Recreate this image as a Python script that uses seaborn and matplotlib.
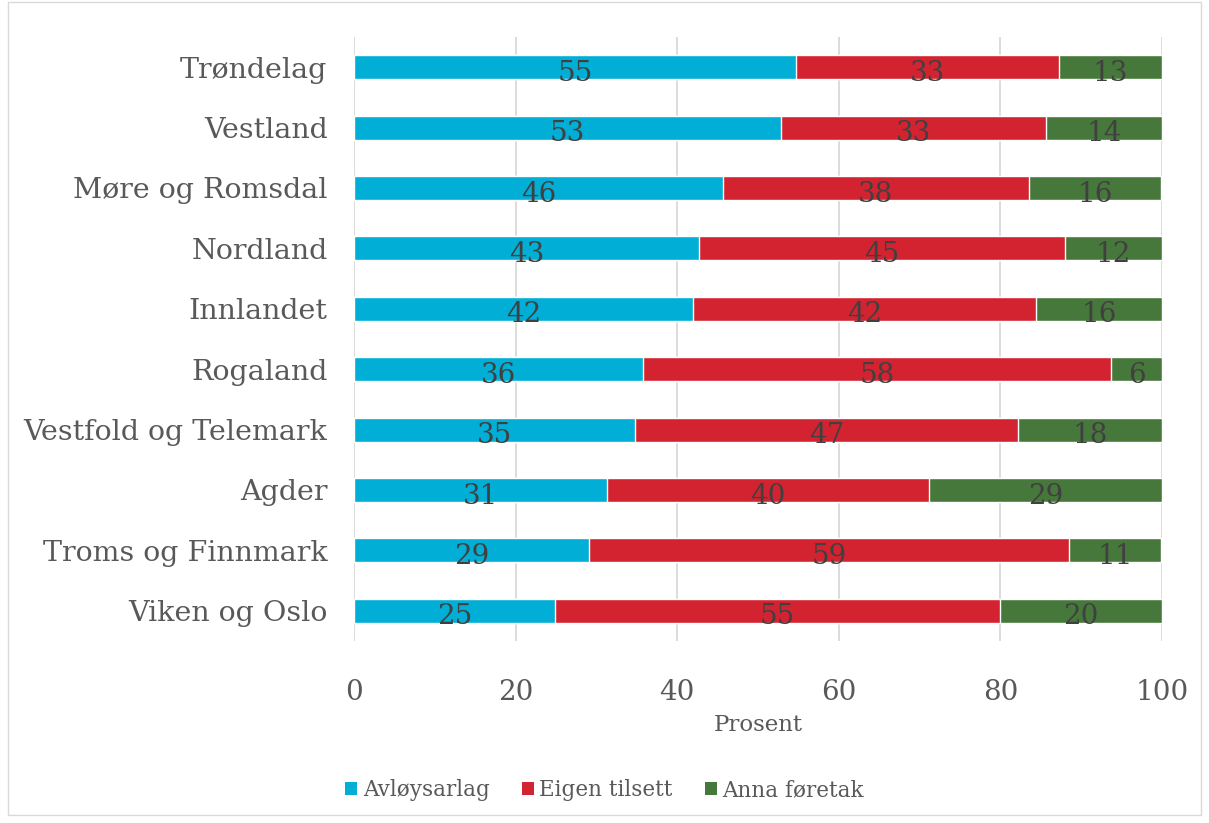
import matplotlib
matplotlib.use("Agg")
import matplotlib.pyplot as plt
import seaborn as sns
import pandas as pd
import numpy as np
from matplotlib.patches import Rectangle, Patch

regions = ["Trøndelag", "Vestland", "Møre og Romsdal", "Nordland", "Innlandet",
           "Rogaland", "Vestfold og Telemark", "Agder", "Troms og Finnmark", "Viken og Oslo"]
avloysarlag = [54.7, 52.9, 45.7, 42.7, 42.0, 35.8, 34.8, 31.3, 29.1, 24.9]
eigen_tilsett = [32.6, 32.8, 37.8, 45.3, 42.4, 57.9, 47.4, 39.9, 59.4, 55.0]
anna_foretak = [12.7, 14.3, 16.4, 12.0, 15.6, 6.3, 17.8, 28.8, 11.4, 20.1]
series_names = ["Avløysarlag", "Eigen tilsett", "Anna føretak"]
colors = ["#00AED6", "#D42330", "#47783B"]
xticks = [0, 20, 40, 60, 80, 100]

sns.set_theme(style="white")
plt.rcParams['font.family'] = ['DejaVu Serif']

df = pd.DataFrame({"region": regions, "a": avloysarlag, "b": eigen_tilsett, "c": anna_foretak})
df["ab"] = df["a"] + df["b"]
df["abc"] = df["ab"] + df["c"]

fig = plt.figure(figsize=(12.09, 8.23), dpi=100)
ax = fig.add_axes([354/1209, 1 - 641/823, (1162-354)/1209, (641-37)/823])

for col, color in zip(["abc", "ab", "a"], colors[::-1]):
    sns.barplot(data=df, x=col, y="region", orient="h", color=color, width=0.4,
                saturation=1, ax=ax, zorder=3)

ax.set_xlim(0, 100)
ax.set_xticks(xticks)
ax.set_xticklabels([str(t) for t in xticks], fontsize=20, color="#595959")
ax.tick_params(axis="x", pad=27, length=0)
ax.tick_params(axis="y", length=0, pad=19, labelsize=20.5, labelcolor="#595959")
ax.set_ylabel("")
ax.set_xlabel("Prosent", fontsize=16.5, color="#595959", labelpad=6)
for s in ax.spines.values():
    s.set_visible(False)
ax.xaxis.grid(True, color="#D9D9D9", linewidth=1.3, zorder=0)
ax.set_axisbelow(True)

for i in range(len(regions)):
    starts = [0, avloysarlag[i], avloysarlag[i] + eigen_tilsett[i]]
    vals = [avloysarlag[i], eigen_tilsett[i], anna_foretak[i]]
    for st, v in zip(starts, vals):
        ax.text(st + v / 2, i + 0.1, f"{v:.0f}", ha="center", va="center",
                fontsize=20, color="#404040", zorder=5)

handles = [Patch(facecolor=c, edgecolor="none") for c in colors]
fig.legend(handles, series_names, loc="center", bbox_to_anchor=(0.5, 1 - 790/823),
           ncol=3, frameon=False, fontsize=15.5, handlelength=0.55, handleheight=0.55,
           columnspacing=1.5, handletextpad=0.25, labelcolor="#595959")

fig.patches.append(Rectangle((8/1209, 8/823), 1 - 16/1209, 1 - 10/823, transform=fig.transFigure,
                             fill=False, edgecolor="#D9D9D9", linewidth=1))

fig.savefig("out.png", dpi=100)
